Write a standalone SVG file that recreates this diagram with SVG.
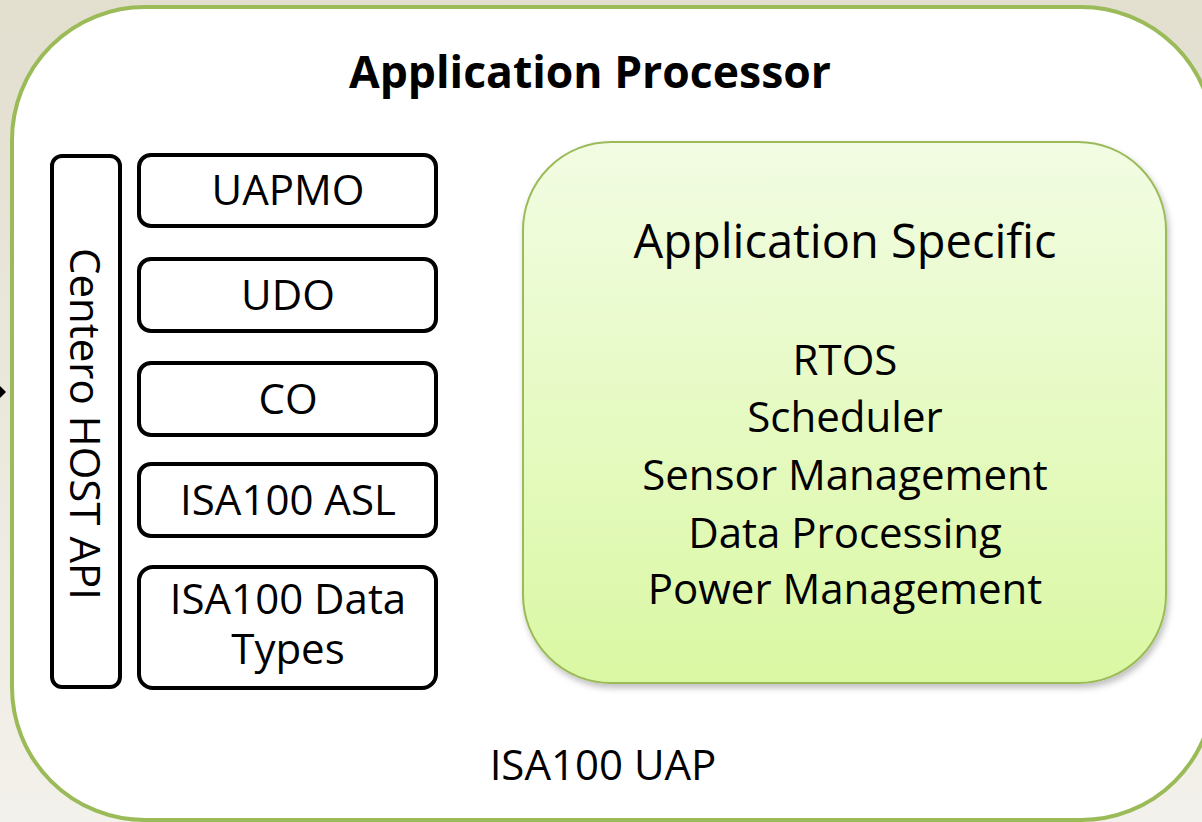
<svg xmlns="http://www.w3.org/2000/svg" width="1202" height="822" viewBox="0 0 1202 822">
<style>
.box{fill:#ffffff;stroke:#000000;stroke-width:4}
.t{font-family:"Open Sans","Noto Sans",sans-serif;fill:#000000;text-anchor:middle}
.s40{font-size:42px}
</style>
<defs>
<linearGradient id="bg" x1="0" y1="0" x2="0" y2="1">
<stop offset="0" stop-color="#e2dfcf"/>
<stop offset="1" stop-color="#f3f1eb"/>
</linearGradient>
<linearGradient id="gf" x1="0" y1="0" x2="0" y2="1">
<stop offset="0" stop-color="#f2fce3"/>
<stop offset="1" stop-color="#daf8a3"/>
</linearGradient>
<filter id="sh" x="-10%" y="-10%" width="120%" height="120%">
<feDropShadow dx="2" dy="4" stdDeviation="3" flood-color="#000000" flood-opacity="0.25"/>
</filter>
</defs>
<rect x="0" y="0" width="1202" height="822" fill="url(#bg)"/>
<g id="connectors">
<polygon points="-2,384 6,392 -2,400" fill="#000000"/>
</g>
<g id="application-processor">
<rect x="12" y="7" width="1202" height="813" rx="133" ry="133" fill="#ffffff" stroke="#9bbb59" stroke-width="4"/>
<text class="t" x="590" y="88" style="font-size:44.5px;font-weight:bold">Application Processor</text>
<text class="t s40" x="603" y="780">ISA100 UAP</text>
</g>
<g id="centero-host-api">
<rect class="box" x="52" y="156" width="68" height="531" rx="10"/>
<text class="t s40" transform="translate(70,424) rotate(90)">Centero HOST API</text>
</g>
<g id="uapmo">
<rect class="box" x="139" y="155" width="297" height="71" rx="12"/>
<text class="t s40" x="288" y="205">UAPMO</text>
</g>
<g id="udo">
<rect class="box" x="139" y="259" width="297" height="72" rx="12"/>
<text class="t s40" x="288" y="310">UDO</text>
</g>
<g id="co">
<rect class="box" x="139" y="363" width="297" height="72" rx="12"/>
<text class="t s40" x="288" y="414">CO</text>
</g>
<g id="isa100-asl">
<rect class="box" x="139" y="464" width="297" height="72" rx="12"/>
<text class="t s40" x="288" y="515">ISA100 ASL</text>
</g>
<g id="isa100-data-types">
<rect class="box" x="139" y="567" width="297" height="121" rx="14"/>
<text class="t s40" x="288" y="614"><tspan x="288">ISA100 Data</tspan><tspan x="288" dy="50">Types</tspan></text>
</g>
<g id="application-specific">
<rect x="523" y="142" width="643" height="541" rx="88" ry="88" fill="url(#gf)" stroke="#9bbb59" stroke-width="2" filter="url(#sh)"/>
<text class="t" x="845" y="258" style="font-size:47px">Application Specific</text>
<text class="t s40" x="845" y="375">RTOS</text>
<text class="t s40" x="845" y="432">Scheduler</text>
<text class="t s40" x="845" y="490">Sensor Management</text>
<text class="t s40" x="845" y="548">Data Processing</text>
<text class="t s40" x="845" y="604">Power Management</text>
</g>
</svg>
